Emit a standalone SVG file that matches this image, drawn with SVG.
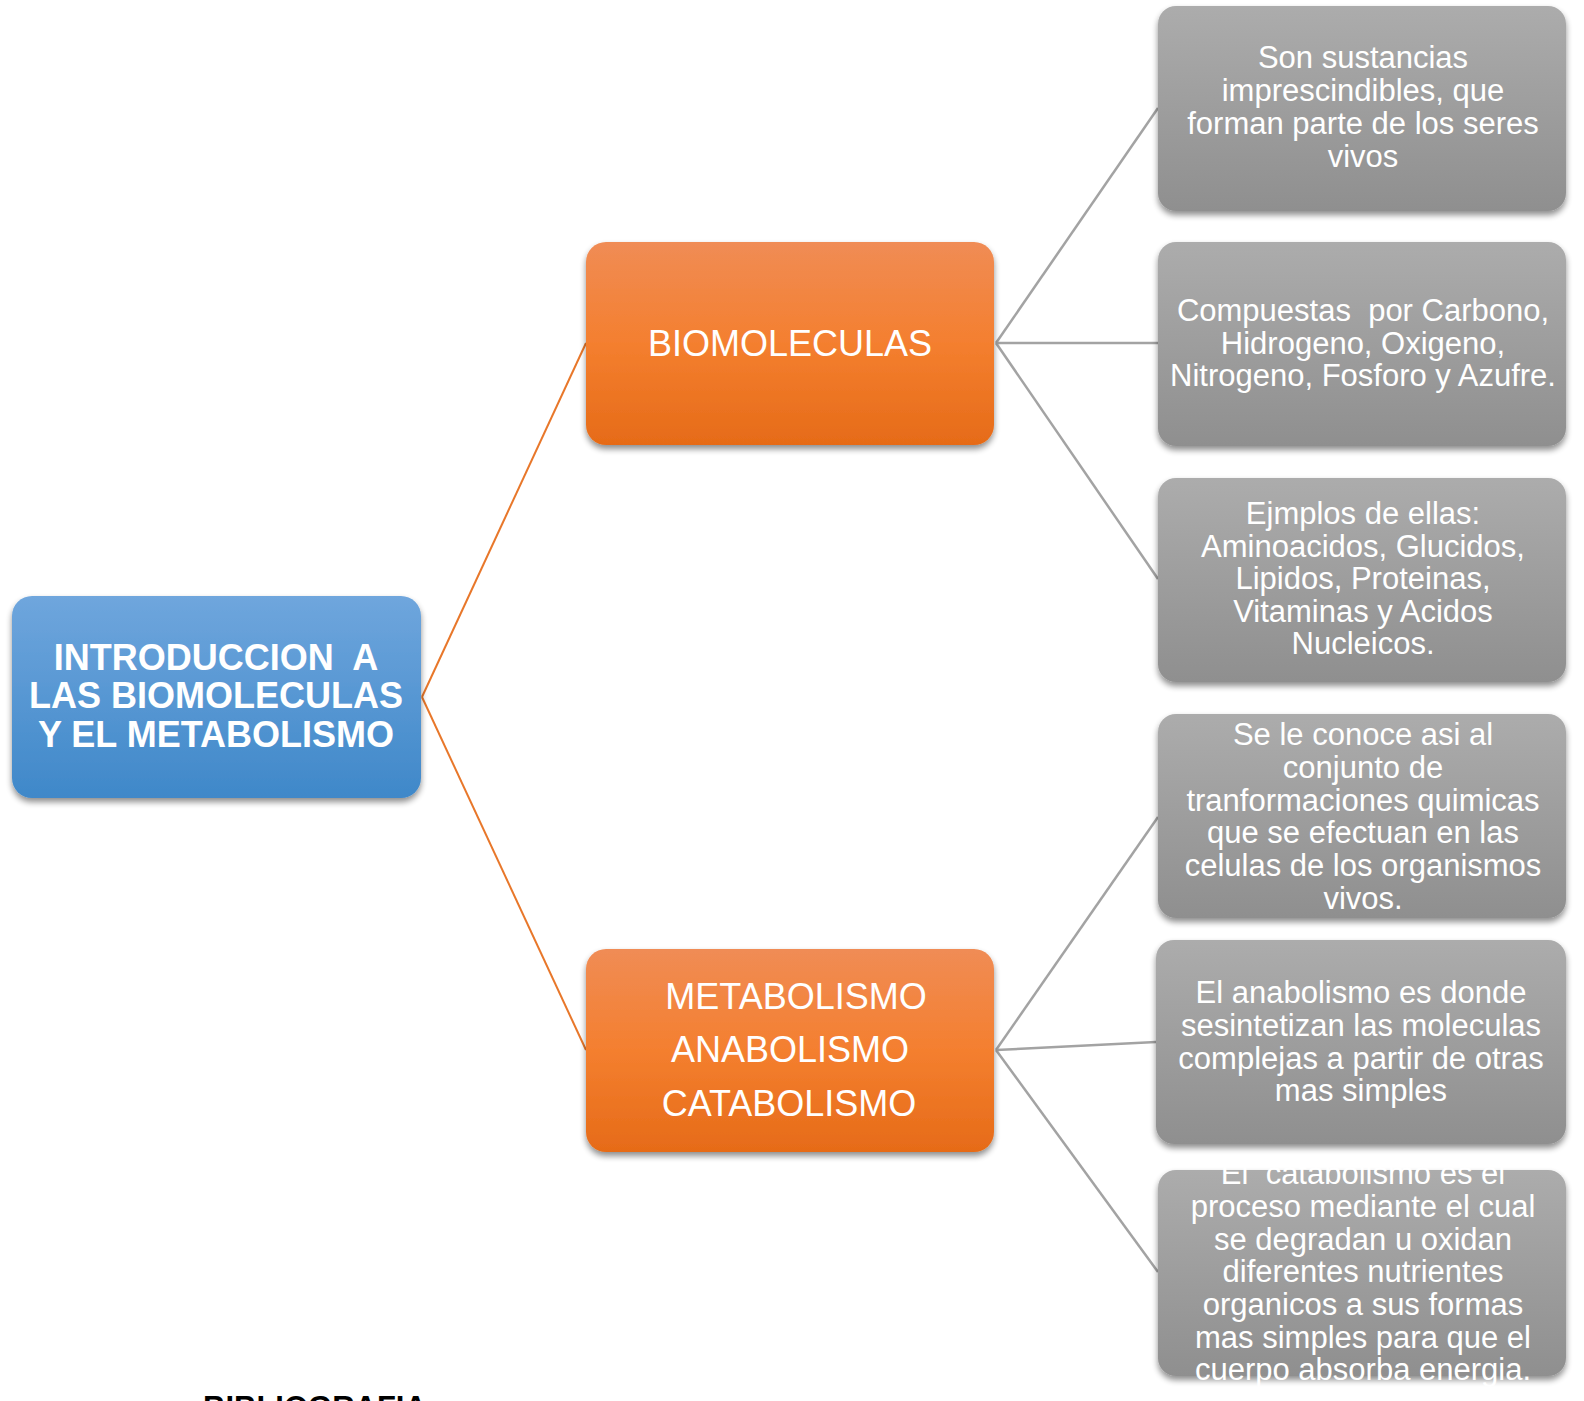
<svg xmlns="http://www.w3.org/2000/svg" width="1584" height="1401" viewBox="0 0 1584 1401">
<defs>
<linearGradient id="gBlue" x1="0" y1="0" x2="0" y2="1">
<stop offset="0" stop-color="#6fa6dd"/>
<stop offset="1" stop-color="#3f88c9"/>
</linearGradient>
<linearGradient id="gOrange" x1="0" y1="0" x2="0" y2="1">
<stop offset="0" stop-color="#f08c55"/>
<stop offset="0.5" stop-color="#f47f2f"/>
<stop offset="1" stop-color="#e66b18"/>
</linearGradient>
<linearGradient id="gGray" x1="0" y1="0" x2="0" y2="1">
<stop offset="0" stop-color="#acacac"/>
<stop offset="1" stop-color="#8f8f8f"/>
</linearGradient>
<filter id="sh" x="-10%" y="-10%" width="120%" height="125%">
<feGaussianBlur in="SourceAlpha" stdDeviation="3"/>
<feOffset dx="0" dy="4" result="b"/>
<feComponentTransfer><feFuncA type="linear" slope="0.45"/></feComponentTransfer>
<feMerge><feMergeNode/><feMergeNode in="SourceGraphic"/></feMerge>
</filter>
</defs>
<style>
.t{font-family:"Liberation Sans",Arial,sans-serif;fill:#ffffff;text-anchor:middle}
.g{font-size:31px}
.o{font-size:36px}
.b{font-size:36px;font-weight:bold}
.co{stroke:#e8772a;stroke-width:2;fill:none}
.cg{stroke:#a3a3a3;stroke-width:2.5;fill:none}
</style>
<rect width="1584" height="1401" fill="#ffffff"/>
<g id="connectors">
<line class="co" x1="422" y1="697" x2="586" y2="343"/>
<line class="co" x1="422" y1="697" x2="586" y2="1050"/>
<line class="cg" x1="996" y1="343" x2="1158" y2="108"/>
<line class="cg" x1="996" y1="343" x2="1158" y2="343"/>
<line class="cg" x1="996" y1="343" x2="1158" y2="579"/>
<line class="cg" x1="996" y1="1050" x2="1158" y2="817"/>
<line class="cg" x1="996" y1="1050" x2="1156" y2="1042"/>
<line class="cg" x1="996" y1="1050" x2="1158" y2="1272"/>
</g>
<g id="root">
<rect x="12" y="596" width="409" height="202" rx="20" fill="url(#gBlue)" filter="url(#sh)"/>
<text class="t b" x="216" y="670" xml:space="preserve">INTRODUCCION  A</text>
<text class="t b" x="216" y="708">LAS BIOMOLECULAS</text>
<text class="t b" x="216" y="747">Y EL METABOLISMO</text>
</g>
<g id="biomoleculas">
<rect x="586" y="242" width="408" height="203" rx="20" fill="url(#gOrange)" filter="url(#sh)"/>
<text class="t o" x="790" y="356">BIOMOLECULAS</text>
</g>
<g id="metabolismo">
<rect x="586" y="949" width="408" height="203" rx="20" fill="url(#gOrange)" filter="url(#sh)"/>
<text class="t o" x="796" y="1009">METABOLISMO</text>
<text class="t o" x="790" y="1062">ANABOLISMO</text>
<text class="t o" x="789" y="1116">CATABOLISMO</text>
</g>
<g id="n1">
<rect x="1158" y="6" width="408" height="205" rx="18" fill="url(#gGray)" filter="url(#sh)"/>
<text class="t g" x="1363" y="68">Son sustancias</text>
<text class="t g" x="1363" y="101">imprescindibles, que</text>
<text class="t g" x="1363" y="134">forman parte de los seres</text>
<text class="t g" x="1363" y="167">vivos</text>
</g>
<g id="n2">
<rect x="1158" y="242" width="408" height="204" rx="18" fill="url(#gGray)" filter="url(#sh)"/>
<text class="t g" x="1363" y="321" xml:space="preserve">Compuestas  por Carbono,</text>
<text class="t g" x="1363" y="354">Hidrogeno, Oxigeno,</text>
<text class="t g" x="1363" y="386">Nitrogeno, Fosforo y Azufre.</text>
</g>
<g id="n3">
<rect x="1158" y="478" width="408" height="204" rx="18" fill="url(#gGray)" filter="url(#sh)"/>
<text class="t g" x="1363" y="524">Ejmplos de ellas:</text>
<text class="t g" x="1363" y="557">Aminoacidos, Glucidos,</text>
<text class="t g" x="1363" y="589">Lipidos, Proteinas,</text>
<text class="t g" x="1363" y="622">Vitaminas y Acidos</text>
<text class="t g" x="1363" y="654">Nucleicos.</text>
</g>
<g id="n4">
<rect x="1158" y="714" width="408" height="204" rx="18" fill="url(#gGray)" filter="url(#sh)"/>
<text class="t g" x="1363" y="745">Se le conoce asi al</text>
<text class="t g" x="1363" y="778">conjunto de</text>
<text class="t g" x="1363" y="811">tranformaciones quimicas</text>
<text class="t g" x="1363" y="843">que se efectuan en las</text>
<text class="t g" x="1363" y="876">celulas de los organismos</text>
<text class="t g" x="1363" y="909">vivos.</text>
</g>
<g id="n5">
<rect x="1156" y="940" width="410" height="204" rx="18" fill="url(#gGray)" filter="url(#sh)"/>
<text class="t g" x="1361" y="1003">El anabolismo es donde</text>
<text class="t g" x="1361" y="1036">sesintetizan las moleculas</text>
<text class="t g" x="1361" y="1069">complejas a partir de otras</text>
<text class="t g" x="1361" y="1101">mas simples</text>
</g>
<g id="n6">
<rect x="1158" y="1170" width="408" height="206" rx="18" fill="url(#gGray)" filter="url(#sh)"/>
<text class="t g" x="1363" y="1184" xml:space="preserve">El  catabolismo es el</text>
<text class="t g" x="1363" y="1217">proceso mediante el cual</text>
<text class="t g" x="1363" y="1250">se degradan u oxidan</text>
<text class="t g" x="1363" y="1282">diferentes nutrientes</text>
<text class="t g" x="1363" y="1315">organicos a sus formas</text>
<text class="t g" x="1363" y="1348">mas simples para que el</text>
<text class="t g" x="1363" y="1380">cuerpo absorba energia.</text>
</g>
<text x="203" y="1418" font-family="Liberation Sans, Arial, sans-serif" font-size="31" font-weight="bold" fill="#000000">BIBLIOGRAFIA</text>
</svg>
